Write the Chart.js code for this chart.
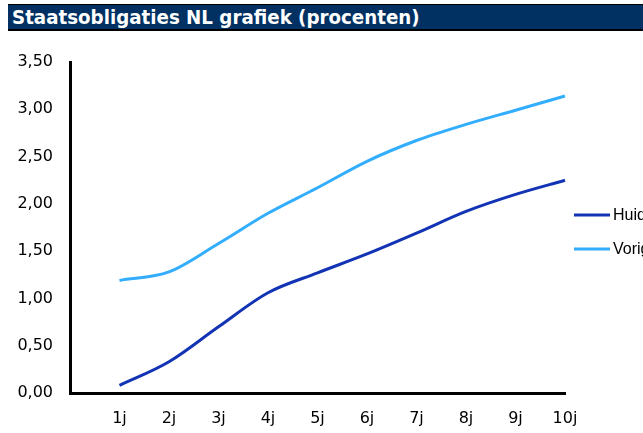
<!DOCTYPE html>
<html>
<head>
<meta charset="utf-8">
<script src="https://cdn.jsdelivr.net/npm/chart.js@4/dist/chart.umd.min.js"></script>
<style>
  html, body { margin: 0; padding: 0; background: #fff; overflow: hidden; }
  #wrap { position: relative; width: 643px; height: 433px; }
  #title {
    position: absolute; left: 8px; top: 4px; width: 640px; height: 24px;
    background: #003162; border-top: 1px solid #000; border-bottom: 2px solid #000;
    color: #fff; font-family: "DejaVu Sans Condensed", "DejaVu Sans", sans-serif;
    font-weight: bold; font-size: 20.3px; line-height: 24px; padding-left: 4px;
    box-sizing: content-box; white-space: nowrap; z-index: 2;
  }
  canvas { position: absolute; left: 0; top: 0; }
</style>
</head>
<body>
<div id="wrap">
  <div id="title">Staatsobligaties NL grafiek (procenten)</div>
  <canvas id="c" width="643" height="433"></canvas>
</div>
<script>
const categories = ['1j', '2j', '3j', '4j', '5j', '6j', '7j', '8j', '9j', '10j'];
const huidig = [0.08, 0.33, 0.70, 1.06, 1.27, 1.47, 1.69, 1.92, 2.10, 2.25];
const vorige = [1.19, 1.28, 1.58, 1.90, 2.17, 2.45, 2.67, 2.84, 2.99, 3.14];
const seriesNames = ['Huidig', 'Vorige'];
const yTicks = [0, 0.5, 1, 1.5, 2, 2.5, 3, 3.5];

const colors = ['#1233B4', '#33AEFF'];

const legendPlugin = {
  id: 'sideLegend',
  afterDraw(chart) {
    const ctx = chart.ctx;
    const x0 = chart.chartArea.right + 9;
    const ys = [215, 249];
    ctx.save();
    chart.data.datasets.forEach((ds, i) => {
      ctx.strokeStyle = ds.borderColor;
      ctx.lineWidth = 3;
      ctx.beginPath();
      ctx.moveTo(x0, ys[i]);
      ctx.lineTo(x0 + 36, ys[i]);
      ctx.stroke();
      ctx.fillStyle = '#000';
      ctx.font = '16px "Liberation Sans", Arial, sans-serif';
      ctx.textBaseline = 'middle';
      ctx.textAlign = 'left';
      ctx.fillText(ds.label, x0 + 39, ys[i] + 1);
    });
    ctx.restore();
  }
};

new Chart(document.getElementById('c'), {
  type: 'line',
  data: {
    labels: [''].concat(categories),
    datasets: [
      { label: seriesNames[0], data: [null].concat(huidig), borderColor: colors[0], backgroundColor: colors[0],
        borderWidth: 3, pointRadius: 0, tension: 0.4, cubicInterpolationMode: 'monotone', fill: false },
      { label: seriesNames[1], data: [null].concat(vorige), borderColor: colors[1], backgroundColor: colors[1],
        borderWidth: 3, pointRadius: 0, tension: 0.4, cubicInterpolationMode: 'monotone', fill: false }
    ]
  },
  options: {
    responsive: false,
    animation: false,
    layout: { padding: { top: 62, right: 78, left: 0, bottom: 0 } },
    plugins: { legend: { display: false }, title: { display: false }, tooltip: { enabled: false } },
    scales: {
      x: {
        offset: false,
        afterFit(scale) { scale.height = 40; },
        grid: { display: false, drawTicks: false },
        border: { display: true, color: '#000', width: 3 },
        ticks: { autoSkip: false, maxRotation: 0, color: '#000', padding: 16,
                 font: { family: '"DejaVu Sans", Verdana, sans-serif', size: 16 } }
      },
      y: {
        min: 0, max: 3.5,
        afterFit(scale) { scale.width = 70; },
        afterBuildTicks(scale) { scale.ticks = yTicks.map(v => ({ value: v })); },
        grid: { display: false, drawTicks: false },
        border: { display: true, color: '#000', width: 3 },
        ticks: { color: '#000', padding: 17,
                 font: { family: '"DejaVu Sans", Verdana, sans-serif', size: 16 },
                 callback: v => v.toFixed(2).replace('.', ',') }
      }
    }
  },
  plugins: [legendPlugin]
});
</script>
</body>
</html>
